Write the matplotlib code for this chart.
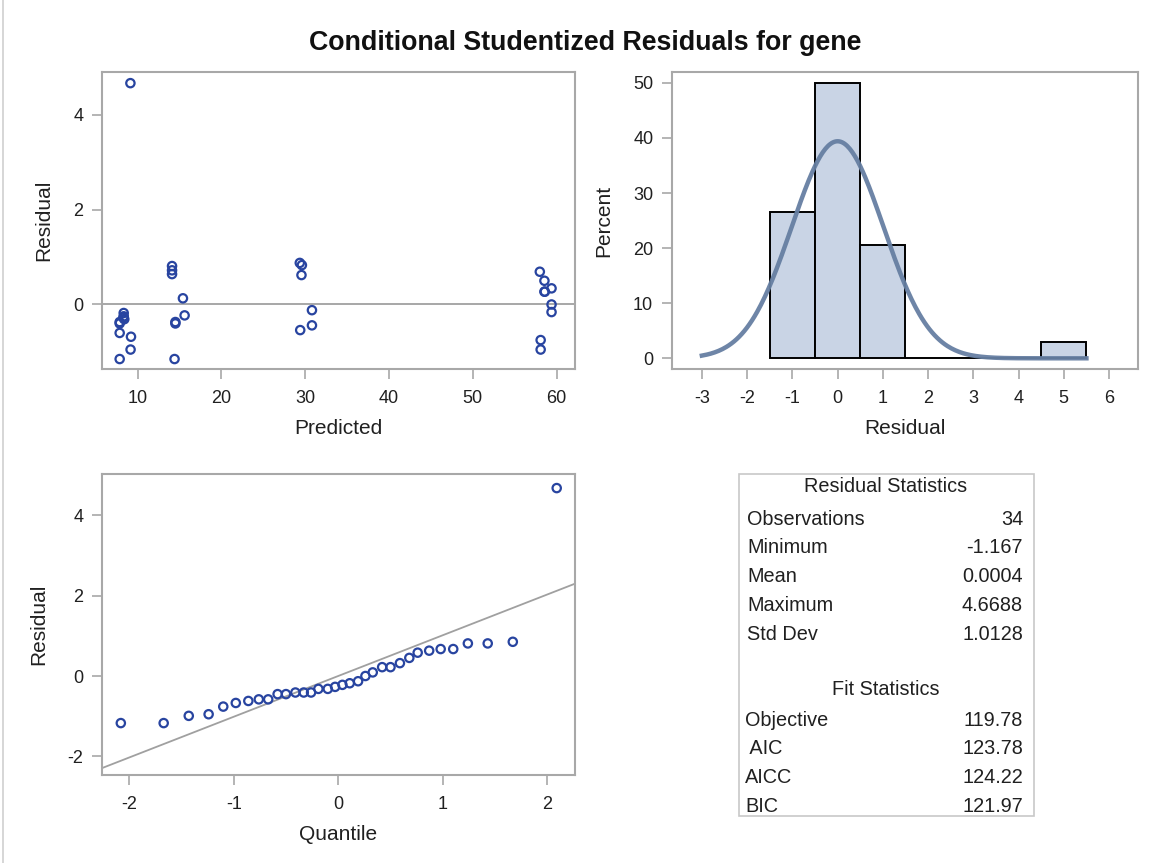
"""Conditional studentized residual panel (scatter, histogram, QQ, stats table)."""

import numpy as np
import matplotlib
matplotlib.use("Agg")
import matplotlib.pyplot as plt
from matplotlib.patches import Rectangle
from matplotlib.lines import Line2D

plt.rcParams["font.family"] = ["Liberation Sans", "DejaVu Sans"]
plt.rcParams["axes.unicode_minus"] = False

# ── Data ──────────────────────────────────────────────────────────────────────
predicted = [9.13, 8.33, 8.33, 8.40, 8.30, 7.85, 7.85, 7.85, 9.20, 9.15, 7.85,
             14.10, 14.10, 14.10, 15.40, 15.60, 14.50, 14.50, 14.40,
             29.35, 29.60, 29.55, 30.80, 30.80, 29.40,
             58.00, 58.55, 59.40, 58.55, 58.60, 59.40, 59.40, 58.10, 58.10]
residual  = [4.665, -0.18, -0.25, -0.31, -0.28, -0.37, -0.40, -0.60, -0.68, -0.95, -1.15,
             0.81, 0.72, 0.64, 0.13, -0.23, -0.37, -0.40, -1.15,
             0.876, 0.83, 0.62, -0.12, -0.44, -0.54,
             0.69, 0.50, 0.34, 0.27, 0.27, 0.00, -0.16, -0.75, -0.95]

qq_quantile = [-2.08, -1.67, -1.43, -1.24, -1.10, -0.98, -0.86, -0.76, -0.67, -0.58,
               -0.50, -0.41, -0.33, -0.26, -0.19, -0.10, -0.03, 0.04, 0.11, 0.19,
               0.26, 0.33, 0.42, 0.50, 0.59, 0.68, 0.76, 0.87, 0.98, 1.10,
               1.24, 1.43, 1.67, 2.09]
qq_residual = [-1.17, -1.17, -0.99, -0.95, -0.76, -0.67, -0.62, -0.58, -0.58, -0.45,
               -0.45, -0.41, -0.41, -0.41, -0.32, -0.32, -0.27, -0.22, -0.18, -0.13,
               0.00, 0.09, 0.22, 0.22, 0.32, 0.45, 0.58, 0.63, 0.67, 0.67,
               0.81, 0.81, 0.85, 4.67]

resid_stat_names  = ["Observations", "Minimum", "Mean", "Maximum", "Std Dev"]
resid_stat_values = ["34", "-1.167", "0.0004", "4.6688", "1.0128"]
fit_stat_names    = ["Objective", " AIC", "AICC", "BIC"]
fit_stat_values   = ["119.78", "123.78", "124.22", "121.97"]

RES_MEAN = 0.0004
RES_STD  = 1.0128
BIN_WIDTH = 1.0

# ── Style ─────────────────────────────────────────────────────────────────────
MARKER_COLOR = "#2844A0"
FRAME_COLOR  = "#A8A8A8"
REF_COLOR    = "#A0A0A0"
BAR_COLOR    = "#C9D4E5"
CURVE_COLOR  = "#667FA2"
TEXT_COLOR   = "#202020"
TICK_SIZE    = 13
LABEL_SIZE   = 15

W, H = 1155, 863


def px_axes(fig, x0, y0, x1, y1):
    """Add axes from pixel box (top-left origin)."""
    return fig.add_axes([x0 / W, 1 - y1 / H, (x1 - x0) / W, (y1 - y0) / H])


def style_axes(ax):
    for sp in ax.spines.values():
        sp.set_color(FRAME_COLOR)
        sp.set_linewidth(1.5)
    ax.tick_params(colors=FRAME_COLOR, labelcolor=TEXT_COLOR,
                   labelsize=TICK_SIZE, length=7, width=1.2)
    ax.tick_params(axis="x", pad=8)
    ax.tick_params(axis="y", pad=6.5)


fig = plt.figure(figsize=(W / 100, H / 100), dpi=100)

fig.suptitle("Conditional Studentized Residuals for gene", fontsize=19.3,
             fontweight="bold", color="#111111", x=585 / W, y=1 - 43 / H,
             va="center")

# figure border (left)
fig.add_artist(Line2D([3 / W, 3 / W], [0, 1], color="#D0D0D0", lw=1.2))

# ── Residual vs predicted ─────────────────────────────────────────────────────
ax1 = px_axes(fig, 102, 72, 575, 369)
ax1.axhline(0, color=REF_COLOR, lw=1.3, zorder=1)
ax1.scatter(predicted, residual, s=36, facecolors="none",
            edgecolors=MARKER_COLOR, linewidths=1.6, zorder=3)
ax1.set_xlim(5.74, 62.2)
ax1.set_ylim(-1.36, 4.9)
ax1.set_xticks([10, 20, 30, 40, 50, 60])
ax1.set_yticks([0, 2, 4])
ax1.set_xlabel("Predicted", fontsize=LABEL_SIZE, color=TEXT_COLOR, labelpad=9)
ax1.set_ylabel("Residual", fontsize=LABEL_SIZE, color=TEXT_COLOR, labelpad=14)
style_axes(ax1)

# ── Histogram with normal curve ───────────────────────────────────────────────
ax2 = px_axes(fig, 672, 72, 1138, 369)
bins = np.arange(-1.5, 5.5 + BIN_WIDTH, BIN_WIDTH)
weights = np.full(len(qq_residual), 100.0 / len(qq_residual))
ax2.hist(qq_residual, bins=bins, weights=weights, color=BAR_COLOR,
         edgecolor="black", linewidth=1.4, zorder=2)
xs = np.linspace(-3, 5.5, 300)
dens = 100 * BIN_WIDTH * np.exp(-0.5 * ((xs - RES_MEAN) / RES_STD) ** 2) / (
    RES_STD * np.sqrt(2 * np.pi))
ax2.plot(xs, dens, color=CURVE_COLOR, lw=3.2, alpha=0.95, zorder=3)
ax2.set_xlim(-3.66, 6.64)
ax2.set_ylim(-1.94, 51.96)
ax2.set_xticks(range(-3, 7))
ax2.set_yticks(range(0, 51, 10))
ax2.set_xlabel("Residual", fontsize=LABEL_SIZE, color=TEXT_COLOR, labelpad=9)
ax2.set_ylabel("Percent", fontsize=LABEL_SIZE, color=TEXT_COLOR, labelpad=14)
style_axes(ax2)

# ── Normal QQ plot ────────────────────────────────────────────────────────────
ax3 = px_axes(fig, 102, 474, 575, 775)
ax3.axline((0, RES_MEAN), slope=RES_STD, color=REF_COLOR, lw=1.3, zorder=1)
ax3.scatter(qq_quantile, qq_residual, s=36, facecolors="none",
            edgecolors=MARKER_COLOR, linewidths=1.6, zorder=3)
ax3.set_xlim(-2.26, 2.265)
ax3.set_ylim(-2.46, 5.02)
ax3.set_xticks([-2, -1, 0, 1, 2])
ax3.set_yticks([-2, 0, 2, 4])
ax3.set_xlabel("Quantile", fontsize=LABEL_SIZE, color=TEXT_COLOR, labelpad=9)
ax3.set_ylabel("Residual", fontsize=LABEL_SIZE, color=TEXT_COLOR, labelpad=14)
style_axes(ax3)

# ── Statistics table ──────────────────────────────────────────────────────────
x0, x1, y0, y1 = 739, 1034, 474, 816
ax4 = px_axes(fig, x0, y0, x1, y1)
ax4.set_xlim(x0, x1)
ax4.set_ylim(y1, y0)
ax4.axis("off")
ax4.add_patch(Rectangle((x0, y0), x1 - x0, y1 - y0, fill=False,
                        edgecolor="#C8C8C8", lw=1.2, clip_on=False))

txt = dict(fontsize=14.3, color=TEXT_COLOR, va="center")
ax4.text(886, 486, "Residual Statistics", ha="center", **txt)
for i, (name, val) in enumerate(zip(resid_stat_names, resid_stat_values)):
    y = 519 + i * 28.8
    ax4.text(747, y, name, ha="left", **txt)
    ax4.text(1023, y, val, ha="right", **txt)
ax4.text(886, 689, "Fit Statistics", ha="center", **txt)
for i, (name, val) in enumerate(zip(fit_stat_names, fit_stat_values)):
    y = 720 + i * 28.7
    ax4.text(745, y, name, ha="left", **txt)
    ax4.text(1023, y, val, ha="right", **txt)

fig.savefig("out.png", dpi=100)
